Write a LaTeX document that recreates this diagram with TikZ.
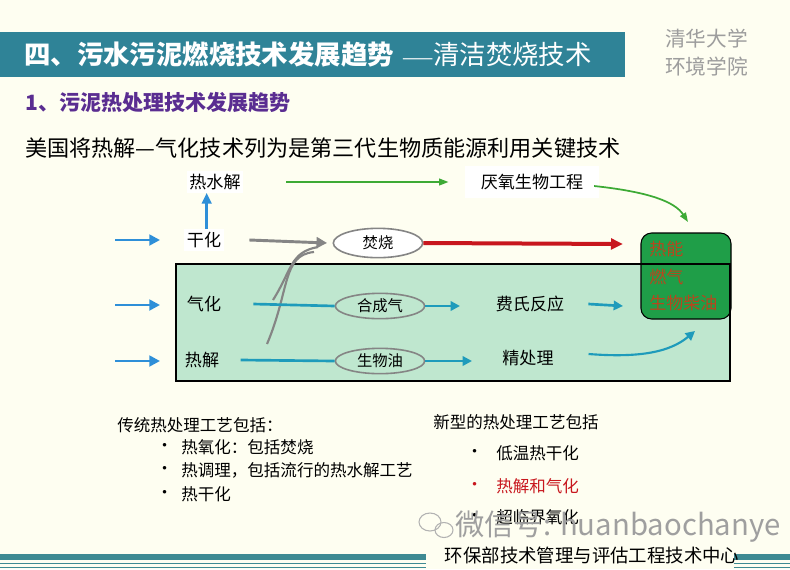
\documentclass[tikz,border=0pt]{standalone}
\usepackage{fontspec}
\setmainfont{Noto Sans CJK SC}
\usetikzlibrary{arrows.meta,shapes.geometric}
\definecolor{bgc}{HTML}{FEFEF1}
\definecolor{titlec}{HTML}{2F8397}
\definecolor{purp}{HTML}{5A2D91}
\definecolor{regionc}{HTML}{BFE7CF}
\definecolor{ablue}{HTML}{2E8FD8}
\definecolor{lblue}{HTML}{1E9BBB}
\definecolor{agreen}{HTML}{3DAA35}
\definecolor{ared}{HTML}{C8171E}
\definecolor{agray}{HTML}{858585}
\definecolor{prodc}{HTML}{1F9E48}
\definecolor{prodt}{HTML}{B8461E}
\definecolor{barc}{HTML}{3E8A93}
\newcommand{\fs}[1]{\fontsize{#1}{#1}\selectfont}
\tikzset{
  lbl/.style={inner sep=2pt, font=\fs{12.8}},
  wlbl/.style={lbl, fill=white},
  ell/.style={ellipse, draw=agray, line width=1.2pt, fill=regionc, minimum width=67pt, minimum height=19pt, inner sep=0pt, font=\fs{11.5}},
  blarr/.style={ablue, line width=2.2pt, -{Triangle[length=8pt,width=8pt]}},
  tlarr/.style={lblue, line width=2pt, -{Triangle[length=7pt,width=7pt]}},
  tlline/.style={lblue, line width=2pt},
  garr/.style={agreen, line width=1.5pt, -{Triangle[length=7pt,width=5pt]}},
  btxt/.style={anchor=west, inner sep=0pt, font=\fs{12.4}},
  ptxt/.style={anchor=west, inner sep=0pt, text=prodt, font=\fs{12.8}},
}
\begin{document}
\begin{tikzpicture}[x=0.75pt,y=-0.75pt]
\useasboundingbox (0,0) rectangle (790,569);
\fill[bgc] (0,0) rectangle (790,569);
% title bar
\fill[titlec] (0,32) rectangle (625,77);
\node[anchor=west, inner sep=0pt, text=white, font=\fs{19.8}\bfseries] (title) at (24,54) {四、污水污泥燃烧技术发展趋势};
\node[anchor=east, inner sep=0pt, text=white, font=\fs{19.8}] (title2) at (592,54) {{\fs{14}——}清洁焚烧技术};
\node[anchor=west, inner sep=0pt, text=agray!80, font=\fs{15.5}] (thu1) at (665,39) {清华大学};
\node[anchor=west, inner sep=0pt, text=agray!80, font=\fs{15.5}] (thu2) at (665,67) {环境学院};
\node[anchor=west, inner sep=0pt, text=purp, font=\fs{15.8}\bfseries] (sub) at (25,102) {1、污泥热处理技术发展趋势};
\node[anchor=west, inner sep=0pt, font=\fs{16.6}] (intro) at (25,148) {美国将热解—气化技术列为是第三代生物质能源利用关键技术};
% region
\fill[regionc] (176,264) rectangle (730,381);
\draw[black, line width=0.8pt, fill=prodc, rounded corners=8pt] (641,233) rectangle (731,319);
\draw[black, line width=0.8pt] (176,264) rectangle (730,381);
\coordinate (prodtop) at (688,222);
\coordinate (prodleft) at (623,244);
\coordinate (prodleft2) at (623,306);
\coordinate (prodbot) at (695,331);
\node[ptxt] (p1) at (649,249) {热能};
\node[ptxt] (p2) at (649,277) {燃气};
\node[ptxt] (p3) at (649,303) {生物柴油};
% labels
\node[wlbl] (rsj) at (215,182) {热水解};
\node[wlbl] (gh) at (204,240) {干化};
\node[lbl] (qh) at (204,304) {气化};
\node[lbl] (rj) at (202,360) {热解};
\node[wlbl, inner xsep=12pt, inner ysep=6pt] (yy) at (532,182) {厌氧生物工程};
\node[lbl] (ft) at (530,304) {费氏反应};
\node[lbl] (jcl) at (528,358) {精处理};
% gray S curves (behind ellipses)
\coordinate (c1s) at (273,300);
\coordinate (c2s) at (267,344);
\draw[agray, line width=1.6pt] (c1s) .. controls (292,270) and (290,252) .. (318,247);
\draw[agray, line width=1.6pt] (c2s) .. controls (290,290) and (282,255) .. (314,252);
% ellipses
\node[ell, fill=white, minimum height=22pt] (fs) at (378,243) {焚烧};
\node[ell] (hcq) at (380,306) {合成气};
\node[ell] (swy) at (380,361) {生物油};
% input arrows
\coordinate (in1) at (115,240);
\coordinate (in2) at (115,305);
\coordinate (in3) at (115,361);
\draw[blarr] (in1) -- (160,240);
\draw[blarr] (in2) -- (160,305);
\draw[blarr] (in3) -- (160,361);
\draw[ablue, line width=2.2pt, -{Triangle[length=8pt,width=7pt]}] ([xshift=2pt]gh.north) -- ([xshift=2pt]gh.north |- rsj.south);
% green path
\draw[garr, line width=1.3pt] ([xshift=32pt]rsj.east) -- ([xshift=-12pt]yy.west);
\draw[garr, line width=1.3pt] ([xshift=-4pt,yshift=-3pt]yy.east) .. controls (650,192) and (675,202) .. (prodtop);
% gray and red
\draw[agray, line width=2.2pt, -{Triangle[length=8pt,width=8pt]}] ([xshift=19pt]gh.east) -- ([xshift=-4pt]fs.west);
\draw[ared, line width=3pt, -{Triangle[length=9pt,width=8pt]}] (fs.east) -- (prodleft);
% syngas path
\draw[tlline] ([xshift=22pt]qh.east) -- (hcq.west);
\draw[tlarr] (hcq.east) -- (460,306);
\draw[tlarr] ([xshift=16pt]ft.east) -- (prodleft2);
% bio-oil path
\draw[tlline] ([xshift=14pt]rj.east) -- (swy.west);
\draw[tlarr] (swy.east) -- (472,361);
\draw[tlarr, line width=1.6pt] ([xshift=24pt,yshift=3pt]jcl.east) .. controls (640,358) and (670,352) .. (prodbot);
% bottom texts
\node[btxt] (tr) at (117,425) {传统热处理工艺包括：};
\node[btxt] (tb1) at (156,447) {•};
\node[btxt] (t1) at (181,447) {热氧化：包括焚烧};
\node[btxt] (tb2) at (156,470) {•};
\node[btxt] (t2) at (181,470) {热调理，包括流行的热水解工艺};
\node[btxt] (tb3) at (156,494) {•};
\node[btxt] (t3) at (181,494) {热干化};
\node[btxt] (nw) at (433,422) {新型的热处理工艺包括};
\node[btxt] (nb1) at (466,453) {•};
\node[btxt] (n1) at (496,453) {低温热干化};
\node[btxt, text=ared] (nb2) at (466,486) {•};
\node[btxt, text=ared] (n2) at (496,486) {热解和气化};
\node[btxt] (nb3) at (466,517) {•};
\node[btxt] (n3) at (496,517) {超临界氧化};
% watermark
\draw[gray!60, line width=0.8pt] (430,522) ellipse (11 and 9);
\draw[gray!60, line width=0.8pt] (444,530) ellipse (9 and 7.5);
\node[anchor=west, inner sep=0pt, text=gray!75, font=\fs{22}] (wm) at (455,527) {微信号: huanbaochanye};
% footer
\fill[barc] (0,554) rectangle (426,560);
\fill[barc] (734,554) rectangle (790,560);
\draw[barc, line width=0.8pt] (0,563.5) -- (426,563.5) (734,563.5) -- (790,563.5);
\draw[barc, line width=0.8pt] (0,567.5) -- (426,567.5) (734,567.5) -- (790,567.5);
\node[inner sep=0pt, font=\fs{13.8}] (foot) at (592,555) {环保部技术管理与评估工程技术中心};
\end{tikzpicture}
\end{document}
